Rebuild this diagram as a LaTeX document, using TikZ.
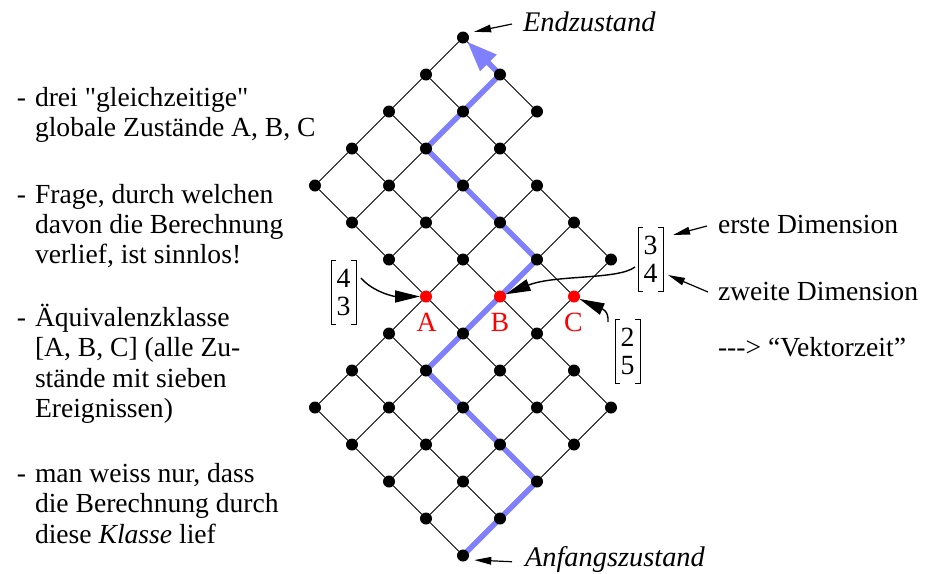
\documentclass[tikz,border=0pt]{standalone}
\usepackage{fontspec}
\setmainfont{Liberation Serif}[Ligatures=TeXOff]
\usetikzlibrary{arrows.meta,calc}
\pgfdeclarelayer{paper}
\pgfdeclarelayer{latticelayer}
\pgfdeclarelayer{routelayer}
\pgfsetlayers{paper,latticelayer,routelayer,main}

\definecolor{routeblue}{RGB}{128,128,255}
\definecolor{statered}{RGB}{255,0,0}

% stacked lines, baseline at the first line
\newcommand\lns[1]{\begin{tabular}[t]{@{}l@{}}#1\end{tabular}}
% square brackets round a vector node
\newcommand\vecbrackets[1]{%
  \draw[bracketline]
    ([xshift=2.5pt]#1.north west) -- (#1.north west) -- (#1.south west) -- ([xshift=2.5pt]#1.south west)
    ([xshift=-2.5pt]#1.north east) -- (#1.north east) -- (#1.south east) -- ([xshift=-2.5pt]#1.south east);}

\begin{document}
\begin{tikzpicture}[x=0.5pt,y=-0.5pt,
  every node/.style={inner sep=0pt, outer sep=0pt},
  txt/.style={anchor=base west, font=\fontsize{13.8}{15.1}\selectfont},
  itxt/.style={anchor=base west, font=\fontsize{14.2}{15.1}\selectfont\itshape},
  evt/.style={circle, fill=black, minimum size=6pt},
  redevt/.style={evt, fill=statered},
  lbl/.style={anchor=base, text=statered, font=\fontsize{13.9}{15.1}\selectfont},
  latline/.style={line width=0.5pt, black},
  routeline/.style={line width=2.8pt, routeblue, -{Triangle[length=15pt,width=11pt]}},
  ptr/.style={line width=0.7pt, -{Triangle[length=12.5pt,width=6pt]}},
  smallptr/.style={line width=0.6pt, -{Triangle[length=8.5pt,width=3.8pt]}},
  vecbox/.style={minimum width=12.5pt, minimum height=32pt, align=center,
                 font=\fontsize{13.9}{14}\selectfont},
  bracketline/.style={line width=0.5pt}
]
\begin{pgfonlayer}{paper}
\fill[white] (0,0) rectangle (939,574);
\end{pgfonlayer}
\useasboundingbox (0,0) rectangle (939,574);

% global states (i events of process 1, j events of process 2)
\foreach \i/\j in {0/0,1/0,0/1,2/0,1/1,0/2,3/0,2/1,1/2,0/3,4/0,3/1,2/2,1/3,0/4,
                   4/1,3/2,2/3,1/4,4/2,3/3,2/4,
                   5/3,4/4,3/5,2/6,6/3,5/4,4/5,3/6,7/3,6/4,5/5,4/6,
                   7/4,6/5,5/6,7/5,6/6,5/7,7/6,6/7,7/7}
  \node[evt] (n\i\j) at ({463+37*(\j-\i)},{555.5-37*(\i+\j)}) {};
\foreach \i/\j in {4/3,3/4,2/5}
  \node[redevt] (n\i\j) at ({463+37*(\j-\i)},{555.5-37*(\i+\j)}) {};

% lattice edges between neighbouring states
\begin{pgfonlayer}{latticelayer}
\foreach \i in {0,...,7}{
  \foreach \j in {0,...,7}{
    \ifcsname pgf@sh@ns@n\i\j\endcsname
      \pgfmathtruncatemacro\ip{\i+1}
      \pgfmathtruncatemacro\jp{\j+1}
      \ifcsname pgf@sh@ns@n\ip\j\endcsname
        \draw[latline] (n\i\j) -- (n\ip\j);
      \fi
      \ifcsname pgf@sh@ns@n\i\jp\endcsname
        \draw[latline] (n\i\j) -- (n\i\jp);
      \fi
    \fi
  }
}
\end{pgfonlayer}

% the computation actually taken
\begin{pgfonlayer}{routelayer}
\draw[routeline] (n00.center) -- (n02.center) -- (n32.center) -- (n35.center)
  -- (n65.center) -- (n67.center) -- (n77);
\end{pgfonlayer}

% labels of the simultaneous states
\node[lbl] (labA) at (426.7,331.7) {A};
\node[lbl] (labB) at (500,331.7) {B};
\node[lbl] (labC) at (573.3,331.7) {C};

% vector times
\node[vecbox] (v43) at (343.5,292) {4\\3};
\node[vecbox] (v34) at (650.5,259) {3\\4};
\node[vecbox] (v25) at (627.5,351) {2\\5};
\vecbrackets{v43}
\vecbrackets{v34}
\vecbrackets{v25}

\draw[ptr] ($(v43.east)+(5,-14)$) .. controls +(12,14) and +(-32,0) .. (n43);
\draw[ptr] ($(v34.west)+(-3,8)$) .. controls +(-17,13) and +(55,-22) .. (n34);
\draw[ptr] ($(v25.north west)+(-7,3)$) .. controls +(1,-12) and +(27,12) .. (n25);

% start and end state
\node[itxt] (endl) at (523,31.7) {Endzustand};
\node[itxt] (anfl) at (525,566.7) {Anfangszustand};
\draw[smallptr, shorten >=3.5pt] ($(endl.west)+(-11,2)$) -- (n77.north east);
\draw[smallptr, shorten >=3.5pt] ($(anfl.west)+(-13,2)$) -- (n00.south east);

% dimensions of the vector
\node[txt] (erste) at (718,233) {erste Dimension};
\node[txt] (zweite) at (718,300) {zweite Dimension};
\node[txt] (vz) at (718,356.7) {---> “Vektorzeit”};
\draw[smallptr] ($(erste.west)+(-11,2)$) -- ($(v34.north east)+(10,8)$);
\draw[smallptr] ($(zweite.west)+(-10,1)$) -- ($(v34.south east)+(5,-16)$);

% remarks
\node[txt] (d1) at (17,106.7) {-};
\node[txt] (p1) at (35,106.7) {\lns{drei "gleichzeitige"\\globale Zustände A, B, C}};
\node[txt] (d2) at (17,203.3) {-};
\node[txt] (p2) at (35,203.3) {\lns{Frage, durch welchen\\davon die Berechnung\\verlief, ist sinnlos!}};
\node[txt] (d3) at (17,326.7) {-};
\node[txt] (p3) at (35,326.7) {\lns{Äquivalenzklasse\\{}[A, B, C] (alle Zu-\\stände mit sieben\\Ereignissen)}};
\node[txt] (d4) at (17,482.7) {-};
\node[txt] (p4) at (35,482.7) {\lns{man weiss nur, dass\\die Berechnung durch\\diese \textit{Klasse} lief}};
\end{tikzpicture}
\end{document}
